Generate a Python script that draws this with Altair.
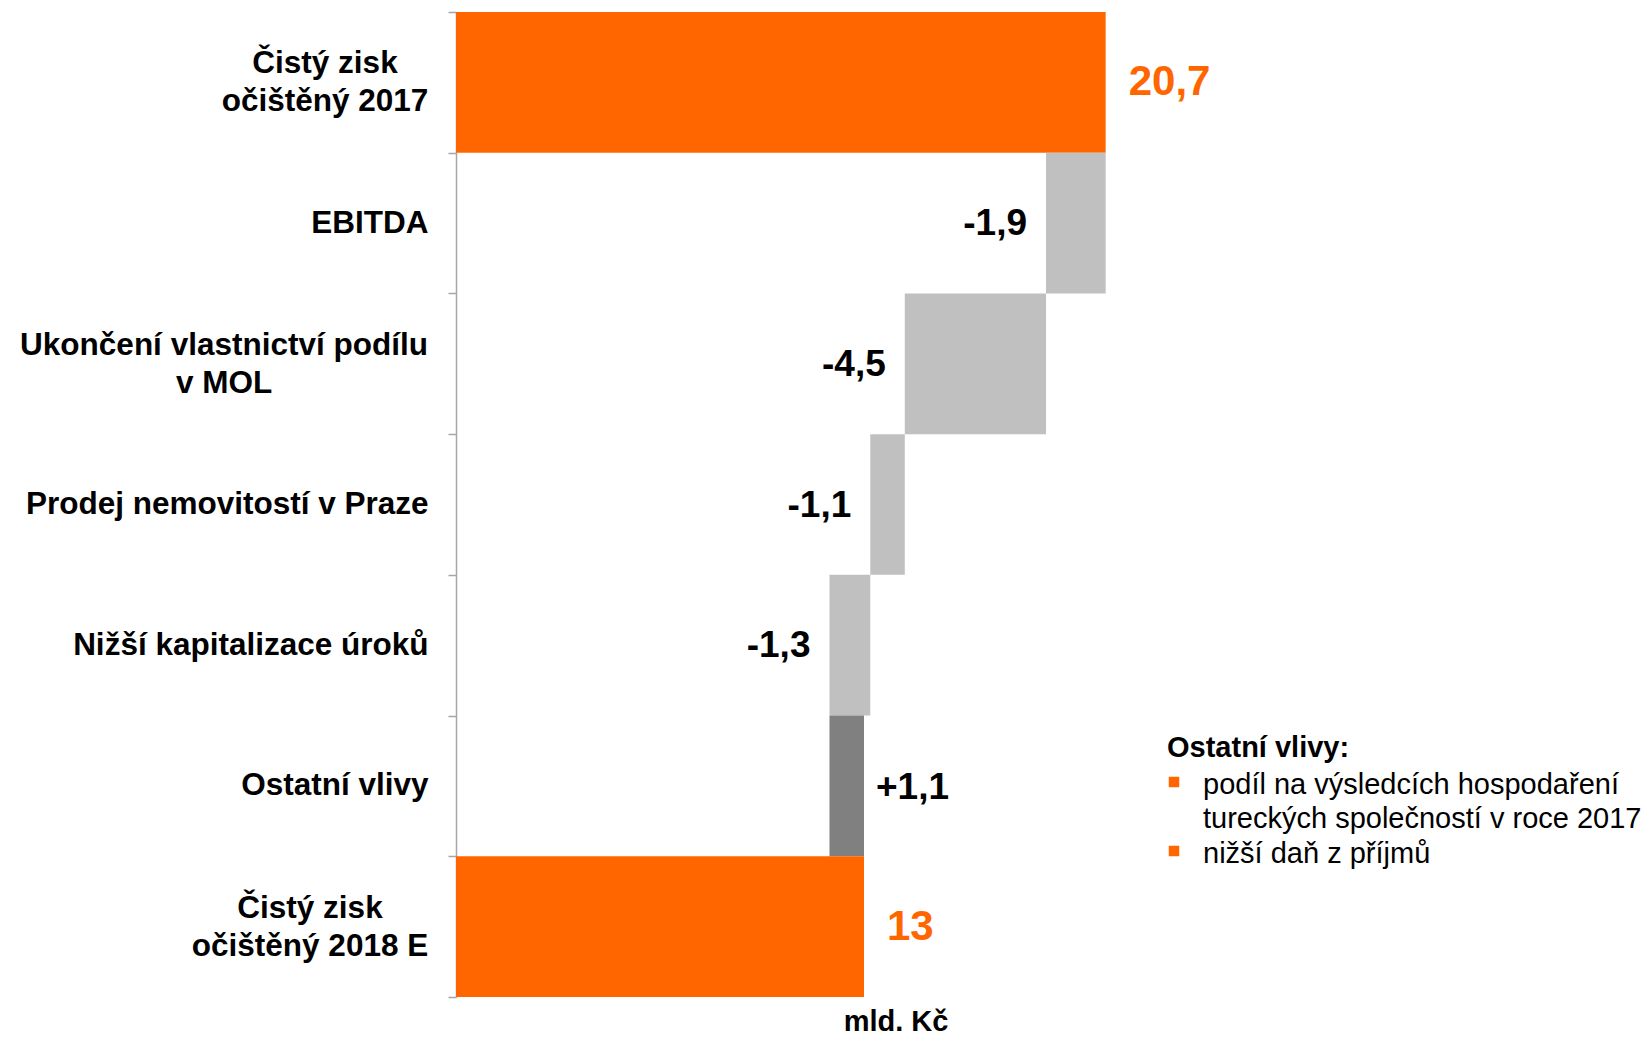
import altair as alt
import pandas as pd

# ---- data -------------------------------------------------------------
categories = [
    "Čistý zisk|očištěný 2017",
    "EBITDA",
    "Ukončení vlastnictví podílu|v MOL",
    "Prodej nemovitostí v Praze",
    "Nižší kapitalizace úroků",
    "Ostatní vlivy",
    "Čistý zisk|očištěný 2018 E",
]
values = [20.7, -1.9, -4.5, -1.1, -1.3, 1.1, 13.0]
kinds = ["total", "delta", "delta", "delta", "delta", "delta", "total"]
value_labels = ["20,7", "-1,9", "-4,5", "-1,1", "-1,3", "+1,1", "13"]

note_title = "Ostatní vlivy:"
note_items = [
    "podíl na výsledcích hospodaření\ntureckých společností v roce 2017",
    "nižší daň z příjmů",
]
unit_label = "mld. Kč"

ORANGE = "#FF6600"
LIGHT = "#C0C0C0"
DARK = "#808080"
FONT = "Liberation Sans"
LABEL_SIZE = 31.5

rows = []
running = 0.0
for name, v, k, lab in zip(categories, values, kinds, value_labels):
    if k == "total":
        start, end = 0.0, v
        running = v
    else:
        start, end = running, running + v
        running = end
    if k == "total":
        col = ORANGE
    elif v < 0:
        col = LIGHT
    else:
        col = DARK
    rows.append(dict(cat=name, value=v, kind=k, label=lab, start=start, end=end,
                     left=min(start, end), right=max(start, end), color=col))
df = pd.DataFrame(rows)

# ---- chart ------------------------------------------------------------
y_axis = alt.Axis(
    title=None,
    grid=False,
    domainColor="#A6A6A6",
    domainWidth=1.5,
    tickColor="#A6A6A6",
    tickWidth=1.5,
    tickSize=8,
    tickBand="extent",
    labelFont=FONT,
    labelFontWeight="bold",
    labelFontSize=LABEL_SIZE,
    labelColor="black",
    labelLimit=0,
    labelPadding=20,
    labelOverlap=False,
    labelExpr="indexof(datum.label, '|') >= 0 ? '' : datum.label",
)

y_enc = alt.Y("cat:N", sort=categories,
              scale=alt.Scale(paddingInner=0, paddingOuter=0), axis=y_axis)
y_plain = alt.Y("cat:N", sort=categories)
x_scale = alt.Scale(domain=[0, 26], nice=False, zero=True)

base = alt.Chart(df)

bars = base.mark_bar(cornerRadius=0).encode(
    y=y_enc,
    x=alt.X("start:Q", scale=x_scale, axis=None),
    x2="end:Q",
    color=alt.Color("color:N", scale=None),
)

neg_text = base.transform_filter("datum.kind == 'delta' && datum.value < 0").mark_text(
    align="right", baseline="middle", dx=-19, dy=1, font=FONT, fontWeight="bold",
    fontSize=37, color="black",
).encode(y=y_plain, x=alt.X("left:Q", scale=x_scale, axis=None), text="label:N")

pos_text = base.transform_filter("datum.kind == 'delta' && datum.value > 0").mark_text(
    align="left", baseline="middle", dx=12, dy=2, font=FONT, fontWeight="bold",
    fontSize=37, color="black",
).encode(y=y_plain, x=alt.X("right:Q", scale=x_scale, axis=None), text="label:N")

tot_text = base.transform_filter("datum.kind == 'total'").mark_text(
    align="left", baseline="middle", dx=23, font=FONT, fontWeight="bold",
    fontSize=42, color=ORANGE,
).encode(y=y_plain, x=alt.X("right:Q", scale=x_scale, axis=None), text="label:N")

# two-line category labels: each line centred within its block
multi_centers = {0: -131, 2: -232, 6: -146}
multi_layers = []
for idx, cx in multi_centers.items():
    multi_layers.append(
        base.transform_filter(alt.datum.cat == categories[idx]).mark_text(
            align="center", baseline="middle", dy=-18, font=FONT, fontWeight="bold",
            fontSize=LABEL_SIZE, color="black", lineBreak="|", lineHeight=38,
        ).encode(y=y_plain, x=alt.value(cx), text="cat:N")
    )

# annotations (view coordinates)
title_layer = alt.Chart(pd.DataFrame({"t": [note_title]})).mark_text(
    align="left", baseline="alphabetic", font=FONT, fontWeight="bold", fontSize=29,
    color="black",
).encode(x=alt.value(711), y=alt.value(745), text="t:N")

item_layers = []
item_y = [782, 851]
bullet_y = [770, 839]
for txt, ty, by in zip(note_items, item_y, bullet_y):
    item_layers.append(
        alt.Chart(pd.DataFrame({"t": [txt]})).mark_text(
            align="left", baseline="alphabetic", font=FONT, fontSize=29,
            color="black", lineBreak="\n", lineHeight=34,
        ).encode(x=alt.value(747), y=alt.value(ty), text="t:N")
    )
    item_layers.append(
        alt.Chart(pd.DataFrame({"t": [txt]})).mark_square(
            size=110, color=ORANGE, opacity=1, filled=True,
        ).encode(x=alt.value(718), y=alt.value(by))
    )

unit_layer = alt.Chart(pd.DataFrame({"t": [unit_label]})).mark_text(
    align="center", baseline="alphabetic", font=FONT, fontWeight="bold", fontSize=29,
    color="black",
).encode(x=alt.value(440), y=alt.value(1019), text="t:N")

chart = alt.layer(
    bars, neg_text, pos_text, tot_text, *multi_layers, title_layer, *item_layers, unit_layer
).properties(
    width=816,
    height=985,
    autosize=alt.AutoSizeParams(type="none"),
    padding={"left": 448, "top": 4, "right": 370, "bottom": 41},
    background="white",
).configure_view(stroke=None)

chart.save("out.html", embed_options={"renderer": "svg", "actions": False})
